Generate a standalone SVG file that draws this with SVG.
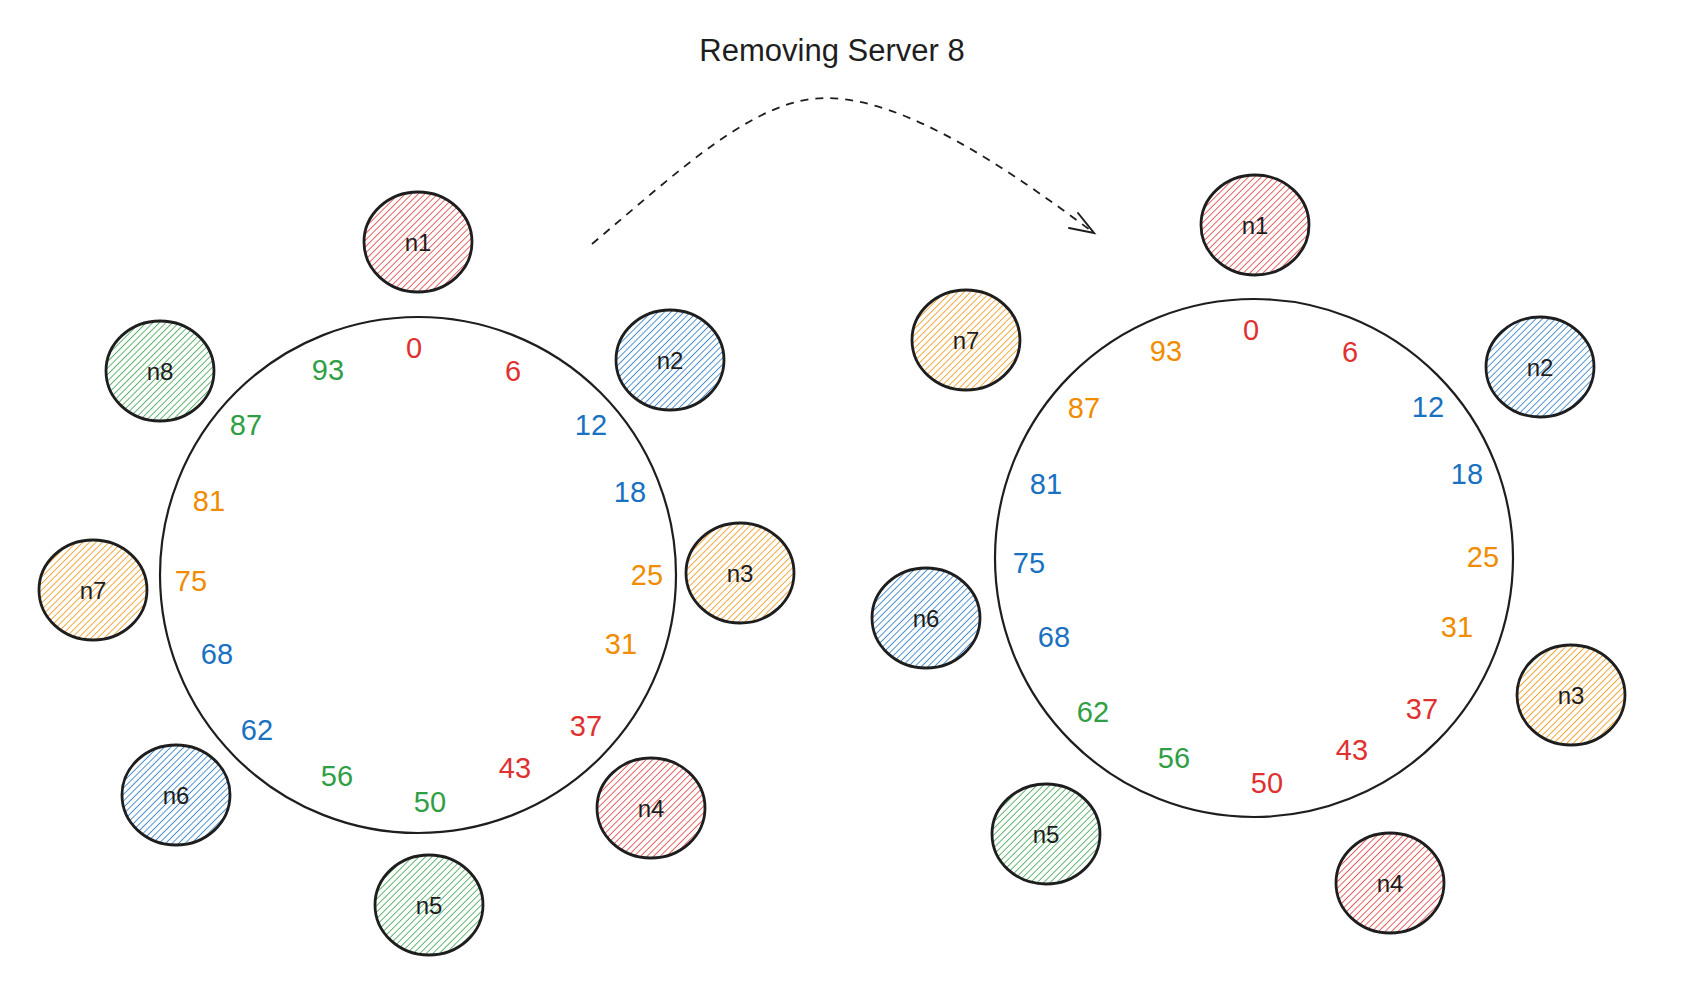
<svg xmlns="http://www.w3.org/2000/svg" width="1694" height="991" viewBox="0 0 1694 991">
<style>
.ring{fill:none;stroke:#1e1e1e;stroke-width:2.2}
.node{stroke:#1e1e1e;stroke-width:2.8}
.nl{font-family:"Liberation Sans",Arial,sans-serif;font-size:24px;fill:#1e1e1e;text-anchor:middle;dominant-baseline:central}
.num{font-family:"Liberation Sans",Arial,sans-serif;font-size:29px;text-anchor:middle;dominant-baseline:central}
.r{fill:#e03131}.b{fill:#1971c2}.g{fill:#2f9e44}.o{fill:#f08c00}
.title{font-family:"Liberation Sans",Arial,sans-serif;font-size:31px;fill:#1e1e1e;text-anchor:middle;dominant-baseline:central}
.conn{fill:none;stroke:#1e1e1e;stroke-width:1.8;stroke-dasharray:8 7}
.head{fill:none;stroke:#1e1e1e;stroke-width:2;stroke-linecap:round}
</style>
<defs>
<pattern id="hr" patternUnits="userSpaceOnUse" width="4.6" height="4.6" patternTransform="rotate(45)"><rect width="4.6" height="4.6" fill="#fff"/><line x1="0" y1="0" x2="0" y2="4.6" stroke="#e03131" stroke-width="1.5"/></pattern>
<pattern id="hb" patternUnits="userSpaceOnUse" width="4.6" height="4.6" patternTransform="rotate(45)"><rect width="4.6" height="4.6" fill="#fff"/><line x1="0" y1="0" x2="0" y2="4.6" stroke="#1971c2" stroke-width="1.5"/></pattern>
<pattern id="hg" patternUnits="userSpaceOnUse" width="4.6" height="4.6" patternTransform="rotate(45)"><rect width="4.6" height="4.6" fill="#fff"/><line x1="0" y1="0" x2="0" y2="4.6" stroke="#2f9e44" stroke-width="1.5"/></pattern>
<pattern id="ho" patternUnits="userSpaceOnUse" width="4.6" height="4.6" patternTransform="rotate(45)"><rect width="4.6" height="4.6" fill="#fff"/><line x1="0" y1="0" x2="0" y2="4.6" stroke="#f08c00" stroke-width="1.5"/></pattern>
</defs>
<rect width="1694" height="991" fill="#ffffff"/>

<text class="title" x="832" y="50">Removing Server 8</text>

<g id="connectors">
<path class="conn" d="M592,244 C680,170 755,98 826,98 C905,98 1010,170 1094,233"/>
<path class="head" d="M1069,228 L1094,233 L1078,213"/>
</g>

<g id="ring-left">
<circle class="ring" cx="418" cy="575" r="258"/>
<text class="num r" x="414" y="348">0</text>
<text class="num r" x="513" y="371">6</text>
<text class="num b" x="591" y="425">12</text>
<text class="num b" x="630" y="492">18</text>
<text class="num o" x="647" y="575">25</text>
<text class="num o" x="621" y="644">31</text>
<text class="num r" x="586" y="726">37</text>
<text class="num r" x="515" y="768">43</text>
<text class="num g" x="430" y="802">50</text>
<text class="num g" x="337" y="776">56</text>
<text class="num b" x="257" y="730">62</text>
<text class="num b" x="217" y="654">68</text>
<text class="num o" x="191" y="581">75</text>
<text class="num o" x="209" y="501">81</text>
<text class="num g" x="246" y="425">87</text>
<text class="num g" x="328" y="370">93</text>
</g>

<g id="L-n1"><ellipse class="node" cx="418" cy="242" rx="54" ry="50" fill="url(#hr)"/><text class="nl" x="418" y="242">n1</text></g>
<g id="L-n2"><ellipse class="node" cx="670" cy="360" rx="54" ry="50" fill="url(#hb)"/><text class="nl" x="670" y="360">n2</text></g>
<g id="L-n3"><ellipse class="node" cx="740" cy="573" rx="54" ry="50" fill="url(#ho)"/><text class="nl" x="740" y="573">n3</text></g>
<g id="L-n4"><ellipse class="node" cx="651" cy="808" rx="54" ry="50" fill="url(#hr)"/><text class="nl" x="651" y="808">n4</text></g>
<g id="L-n5"><ellipse class="node" cx="429" cy="905" rx="54" ry="50" fill="url(#hg)"/><text class="nl" x="429" y="905">n5</text></g>
<g id="L-n6"><ellipse class="node" cx="176" cy="795" rx="54" ry="50" fill="url(#hb)"/><text class="nl" x="176" y="795">n6</text></g>
<g id="L-n7"><ellipse class="node" cx="93" cy="590" rx="54" ry="50" fill="url(#ho)"/><text class="nl" x="93" y="590">n7</text></g>
<g id="L-n8"><ellipse class="node" cx="160" cy="371" rx="54" ry="50" fill="url(#hg)"/><text class="nl" x="160" y="371">n8</text></g>

<g id="ring-right">
<circle class="ring" cx="1254" cy="558" r="259"/>
<text class="num r" x="1251" y="330">0</text>
<text class="num r" x="1350" y="352">6</text>
<text class="num b" x="1428" y="407">12</text>
<text class="num b" x="1467" y="474">18</text>
<text class="num o" x="1483" y="557">25</text>
<text class="num o" x="1457" y="627">31</text>
<text class="num r" x="1422" y="709">37</text>
<text class="num r" x="1352" y="750">43</text>
<text class="num r" x="1267" y="783">50</text>
<text class="num g" x="1174" y="758">56</text>
<text class="num g" x="1093" y="712">62</text>
<text class="num b" x="1054" y="637">68</text>
<text class="num b" x="1029" y="563">75</text>
<text class="num b" x="1046" y="484">81</text>
<text class="num o" x="1084" y="408">87</text>
<text class="num o" x="1166" y="351">93</text>
</g>

<g id="R-n1"><ellipse class="node" cx="1255" cy="225" rx="54" ry="50" fill="url(#hr)"/><text class="nl" x="1255" y="225">n1</text></g>
<g id="R-n2"><ellipse class="node" cx="1540" cy="367" rx="54" ry="50" fill="url(#hb)"/><text class="nl" x="1540" y="367">n2</text></g>
<g id="R-n3"><ellipse class="node" cx="1571" cy="695" rx="54" ry="50" fill="url(#ho)"/><text class="nl" x="1571" y="695">n3</text></g>
<g id="R-n4"><ellipse class="node" cx="1390" cy="883" rx="54" ry="50" fill="url(#hr)"/><text class="nl" x="1390" y="883">n4</text></g>
<g id="R-n5"><ellipse class="node" cx="1046" cy="834" rx="54" ry="50" fill="url(#hg)"/><text class="nl" x="1046" y="834">n5</text></g>
<g id="R-n6"><ellipse class="node" cx="926" cy="618" rx="54" ry="50" fill="url(#hb)"/><text class="nl" x="926" y="618">n6</text></g>
<g id="R-n7"><ellipse class="node" cx="966" cy="340" rx="54" ry="50" fill="url(#ho)"/><text class="nl" x="966" y="340">n7</text></g>
</svg>
